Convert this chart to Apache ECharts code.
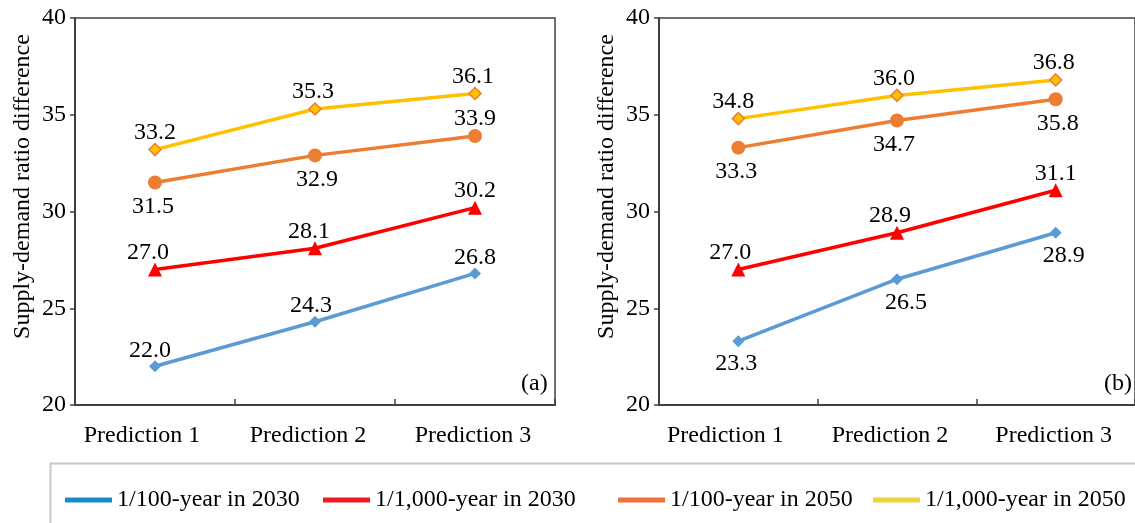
<!DOCTYPE html>
<html>
<head>
<meta charset="utf-8">
<script src="https://cdn.jsdelivr.net/npm/echarts@6/dist/echarts.min.js"></script>
<style>
html,body{margin:0;padding:0;background:#fff;}
#chart{width:1135px;height:523px;}
</style>
</head>
<body>
<div id="chart"></div>
<script>
const categories = ['Prediction 1', 'Prediction 2', 'Prediction 3'];
const seriesNames = ['1/100-year in 2030', '1/1,000-year in 2030', '1/100-year in 2050', '1/1,000-year in 2050'];
// panel (a)
const a_100_2030 = [22.0, 24.3, 26.8];
const a_1000_2030 = [27.0, 28.1, 30.2];
const a_100_2050 = [31.5, 32.9, 33.9];
const a_1000_2050 = [33.2, 35.3, 36.1];
// panel (b)
const b_100_2030 = [23.3, 26.5, 28.9];
const b_1000_2030 = [27.0, 28.9, 31.1];
const b_100_2050 = [33.3, 34.7, 35.8];
const b_1000_2050 = [34.8, 36.0, 36.8];
const yTicks = [20, 25, 30, 35, 40];
const panelLabels = ['(a)', '(b)'];

const FONT = '"Liberation Serif", "Times New Roman", serif';
const FS = 24;
const lineColors = ['#5B9BD5', '#FF0000', '#ED7D31', '#FFC000'];
const legendColors = ['#1B8AC8', '#EE1C25', '#F07038', '#EFD43A'];
const symbols = ['diamond', 'triangle', 'circle', 'diamond'];
const symbolSizes = [12, 14, 14, 12];
const markerBorder = [null, null, null, '#ED7D31'];

// label placement (style only): position per series/point and small horizontal nudges
const posA = [['top','top','top'], ['top','top','top'], ['bottom','bottom','top'], ['top','top','top']];
const posB = [['bottom','bottom','bottom'], ['top','top','top'], ['bottom','bottom','bottom'], ['top','top','top']];
const nudgeA = [[-5,-4,0], [-7,-6,0], [-2,2,0], [0,-2,-2]];
const nudgeB = [[-2,9,8], [-8,-7,0], [-2,-3,2], [-5,-3,-2]];
const catLabelShift = [-13, -7, -2];

const gridsDef = [{left: 75, top: 18, width: 480, height: 387}, {left: 659, top: 18, width: 480, height: 387}];

function makeSeries(panelIdx, datasets, positions, nudges) {
  return datasets.map((vals, si) => ({
    name: seriesNames[si],
    type: 'line',
    xAxisIndex: panelIdx,
    yAxisIndex: panelIdx,
    symbol: symbols[si],
    symbolSize: symbolSizes[si],
    z: 10 - si,
    lineStyle: {color: lineColors[si], width: 3.5},
    itemStyle: {
      color: lineColors[si],
      borderColor: markerBorder[si] || lineColors[si],
      borderWidth: markerBorder[si] ? 1.5 : 0
    },
    data: vals.map((v, i) => ({
      value: v,
      label: {
        show: true,
        position: positions[si][i],
        distance: positions[si][i] === 'top' ? -2 : 5,
        offset: [nudges[si][i], 0],
        formatter: (p) => p.value.toFixed(1),
        fontFamily: FONT, fontSize: FS, color: '#000'
      }
    })),
    emphasis: {disabled: true},
    animation: false
  }));
}

const series = [
  ...makeSeries(0, [a_100_2030, a_1000_2030, a_100_2050, a_1000_2050], posA, nudgeA),
  ...makeSeries(1, [b_100_2030, b_1000_2030, b_100_2050, b_1000_2050], posB, nudgeB)
];

const catRich = {};
catLabelShift.forEach((s, i) => {
  catRich['c' + i] = {fontFamily: FONT, fontSize: FS, color: '#000', padding: [0, -2 * s, 0, 0]};
});

function xAxis(gi) {
  return {
    type: 'category', gridIndex: gi, data: categories, boundaryGap: true,
    axisLine: {lineStyle: {color: '#404040', width: 2}},
    axisTick: {show: true, inside: true, length: 6, lineStyle: {color: '#404040', width: 1.5}},
    axisLabel: {
      interval: 0, hideOverlap: false,
      fontFamily: FONT, fontSize: FS, color: '#000', margin: 19,
      formatter: (v, i) => '{c' + i + '|' + v + '}',
      rich: catRich
    },
    splitLine: {show: false}
  };
}
function yAxis(gi) {
  return {
    type: 'value', gridIndex: gi, min: yTicks[0], max: yTicks[yTicks.length - 1], interval: 5,
    name: 'Supply-demand ratio difference', nameLocation: 'middle', nameGap: 40,
    nameTextStyle: {fontFamily: FONT, fontSize: FS, color: '#000', padding: [0, 0, 0, 50]},
    axisLine: {show: true, lineStyle: {color: '#404040', width: 2}},
    axisTick: {show: true, inside: false, length: 5, lineStyle: {color: '#404040', width: 1.5}},
    axisLabel: {fontFamily: FONT, fontSize: FS, color: '#000', margin: 9},
    splitLine: {show: false}
  };
}

const legendLefts = [60, 318, 613, 868];
const legends = seriesNames.map((n, i) => ({
  left: legendLefts[i], top: 483,
  icon: 'rect', itemWidth: 47, itemHeight: 5, itemGap: 0,
  selectedMode: false,
  textStyle: {fontFamily: FONT, fontSize: FS, color: '#000'},
  data: [{name: n, itemStyle: {color: legendColors[i], borderWidth: 0}, lineStyle: {opacity: 0}}]
}));

const option = {
  backgroundColor: '#fff',
  animation: false,
  grid: gridsDef.map(g => Object.assign({show: true, borderColor: '#404040', borderWidth: 1.5, backgroundColor: 'transparent'}, g)),
  xAxis: [xAxis(0), xAxis(1)],
  yAxis: [yAxis(0), yAxis(1)],
  legend: legends,
  title: [
    {text: panelLabels[0], left: 521, top: 372, padding: 0, textStyle: {fontFamily: FONT, fontSize: FS, fontWeight: 'normal', color: '#000'}},
    {text: panelLabels[1], left: 1104, top: 372, padding: 0, textStyle: {fontFamily: FONT, fontSize: FS, fontWeight: 'normal', color: '#000'}}
  ],
  graphic: [{
    type: 'rect', left: 48, top: 461, silent: true,
    shape: {width: 1200, height: 100},
    style: {fill: 'none', stroke: '#C8C8C8', lineWidth: 2}
  }],
  series: series
};

const chart = echarts.init(document.getElementById('chart'), null, {renderer: 'canvas'});
chart.setOption(option);
</script>
</body>
</html>
